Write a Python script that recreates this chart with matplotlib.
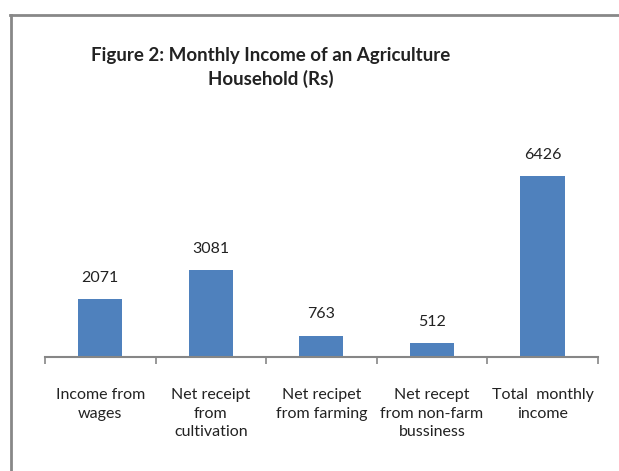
import matplotlib.pyplot as plt
from matplotlib.lines import Line2D

categories = ["Income from\nwages", "Net receipt\nfrom\ncultivation", "Net recipet\nfrom farming",
              "Net recept\nfrom non-farm\nbussiness", "Total  monthly\nincome"]
values = [2071, 3081, 763, 512, 6426]

plt.rcParams['font.family'] = ['Lato', 'DejaVu Sans']

fig = plt.figure(figsize=(6.19, 4.71), dpi=100)
ax = fig.add_axes([0.0727, 0.242, 0.893, 0.418])

x = list(range(len(values)))
bars = ax.bar(x, values, width=0.4, color='#4F81BD')
for xi, v in zip(x, values):
    ax.text(xi, v + 500, str(v), ha='center', va='bottom', fontsize=11.5, color='#222222')

ax.set_xlim(-0.5, len(values) - 0.5)
ax.set_ylim(0, 7000)
ax.set_yticks([])
for s in ['top', 'right', 'left']:
    ax.spines[s].set_visible(False)
ax.spines['bottom'].set_color('#868686')
ax.spines['bottom'].set_linewidth(1.5)

# category boundary ticks
ax.set_xticks([i - 0.5 for i in range(len(values) + 1)])
ax.set_xticklabels([])
ax.tick_params(axis='x', length=5, width=1.2, color='#868686')
ax.set_xticks(x, minor=True)
ax.set_xticklabels(categories, minor=True, fontsize=11.5, color='#222222', linespacing=1.45)
ax.tick_params(axis='x', which='minor', length=0, pad=22)

fig.text(0.438, 0.857, "Figure 2: Monthly Income of an Agriculture\nHousehold (Rs)",
         ha='center', va='center', fontsize=13.5, fontweight='bold', color='#222222', linespacing=1.35)

# outer frame (left and top visible)
fig.add_artist(Line2D([11 / 619, 11 / 619], [0, 1 - 15 / 471], transform=fig.transFigure, color='#888888', lw=2))
fig.add_artist(Line2D([10 / 619, 1], [1 - 15 / 471, 1 - 15 / 471], transform=fig.transFigure, color='#888888', lw=2))

fig.savefig('out.png', dpi=100)
